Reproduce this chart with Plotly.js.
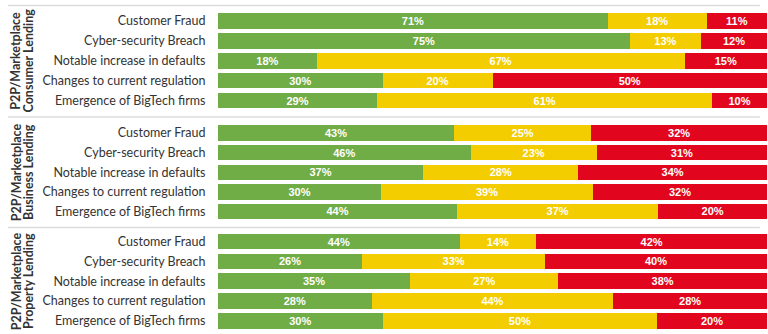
<!DOCTYPE html>
<html>
<head>
<meta charset="utf-8">
<script src="https://cdn.plot.ly/plotly-3.0.1.min.js"></script>
<style>
  html, body { margin: 0; padding: 0; background: #ffffff; }
  #chart { width: 768px; height: 334px; }
</style>
</head>
<body>
<div id="chart"></div>
<script>
// ---- data ----
const categories = [
  "Customer Fraud",
  "Cyber-security Breach",
  "Notable increase in defaults",
  "Changes to current regulation",
  "Emergence of BigTech firms"
];
const groupLine1 = ["P2P/Marketplace", "P2P/Marketplace", "P2P/Marketplace"];
const groupLine2 = ["Consumer Lending", "Business Lending", "Property Lending"];

const consumerGreen  = [71, 75, 18, 30, 29];
const consumerYellow = [18, 13, 67, 20, 61];
const consumerRed    = [11, 12, 15, 50, 10];

const businessGreen  = [43, 46, 37, 30, 44];
const businessYellow = [25, 23, 28, 39, 37];
const businessRed    = [32, 31, 34, 32, 20];

const propertyGreen  = [44, 26, 35, 28, 30];
const propertyYellow = [14, 33, 27, 44, 50];
const propertyRed    = [42, 40, 38, 28, 20];

// ---- styling ----
const colors = { green: "#70AD47", yellow: "#F3CD00", red: "#E2051E" };
const panels = [
  { yaxis: "y",  key: "yaxis",  series: [consumerGreen, consumerYellow, consumerRed], domain: [0.6693, 0.9669] },
  { yaxis: "y2", key: "yaxis2", series: [businessGreen, businessYellow, businessRed], domain: [0.3374, 0.6311] },
  { yaxis: "y3", key: "yaxis3", series: [propertyGreen, propertyYellow, propertyRed], domain: [0.0092, 0.3067] }
];
const seriesColors = [colors.green, colors.yellow, colors.red];
const seriesNames = ["Green", "Amber", "Red"];

const traces = [];
panels.forEach(p => {
  p.series.forEach((vals, i) => {
    traces.push({
      type: "bar",
      orientation: "h",
      name: seriesNames[i],
      x: vals,
      y: categories,
      yaxis: p.yaxis,
      xaxis: "x",
      marker: { color: seriesColors[i], line: { width: 0 } },
      text: vals.map(v => v + "%"),
      textposition: "inside",
      insidetextanchor: "middle",
      textangle: 0,
      constraintext: "none",
      textfont: { family: "Liberation Sans, Arial, sans-serif", size: 11, color: "#ffffff", weight: "bold" },
      hoverinfo: "skip",
      showlegend: false
    });
  });
});

const layout = {
  width: 768,
  height: 334,
  margin: { l: 218, r: 1, t: 0, b: 0 },
  paper_bgcolor: "#ffffff",
  plot_bgcolor: "#ffffff",
  barmode: "stack",
  barnorm: "percent",
  bargap: 0.22,
  showlegend: false,
  xaxis: { range: [0, 100], visible: false, fixedrange: true },
  shapes: [],
  annotations: []
};

panels.forEach(p => {
  layout[p.key] = {
    domain: p.domain,
    type: "category",
    categoryorder: "array",
    categoryarray: categories,
    autorange: "reversed",
    showgrid: false,
    zeroline: false,
    showline: false,
    ticks: "outside",
    ticklen: 9,
    tickcolor: "rgba(0,0,0,0)",
    tickfont: { family: "Lato, sans-serif", size: 12.5, color: "#333333" },
    anchor: "x",
    fixedrange: true
  };
});

// separator lines
const sepY = [0.9835, 0.6497, 0.3189];
sepY.forEach(y => {
  layout.shapes.push({
    type: "line", xref: "paper", yref: "paper",
    x0: -0.3825, x1: 0.987, y0: y, y1: y,
    line: { color: "#DCDCDC", width: 1.5 }
  });
});

// group labels
panels.forEach((p, i) => {
  const yc = (p.domain[0] + p.domain[1]) / 2;
  layout.annotations.push({
    xref: "paper", yref: "paper", x: -0.368, y: yc,
    xanchor: "center", yanchor: "middle", textangle: -90, showarrow: false,
    text: groupLine1[i],
    font: { family: "Lato, sans-serif", size: 12.5, color: "#333333", weight: "bold" }
  });
  layout.annotations.push({
    xref: "paper", yref: "paper", x: -0.3448, y: yc,
    xanchor: "center", yanchor: "middle", textangle: -90, showarrow: false,
    text: groupLine2[i],
    font: { family: "Lato, sans-serif", size: 12.5, color: "#333333", weight: "bold" }
  });
});

Plotly.newPlot("chart", traces, layout, { displayModeBar: false, staticPlot: true });
</script>
</body>
</html>
